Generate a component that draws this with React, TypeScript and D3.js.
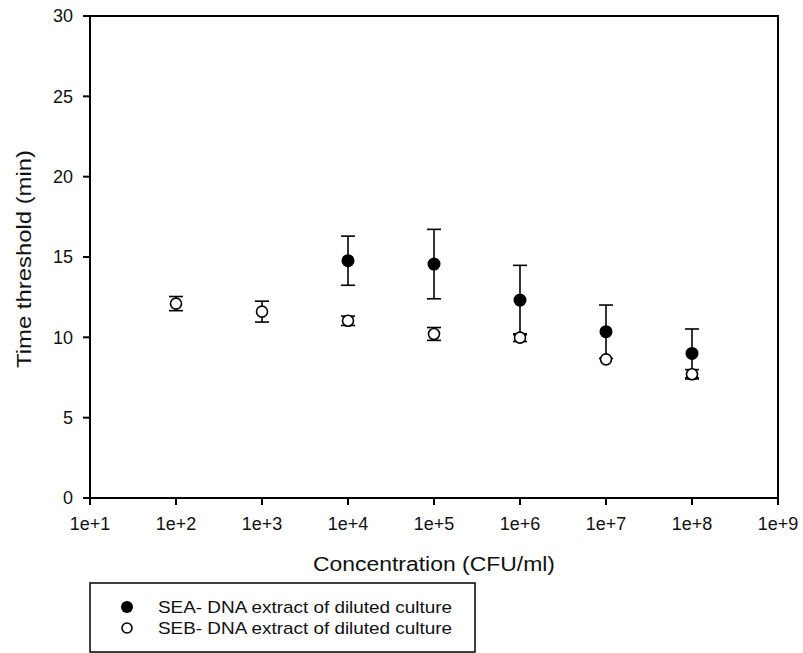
import * as d3 from "d3";

// concentrations (CFU/ml) and threshold times (min)
const seaConc = [1e4, 1e5, 1e6, 1e7, 1e8];
const seaMean = [14.77, 14.56, 12.32, 10.35, 9.0];
const seaErr = [1.53, 2.16, 2.16, 1.66, 1.52];

const sebConc = [1e2, 1e3, 1e4, 1e5, 1e6, 1e7, 1e8];
const sebMean = [12.1, 11.6, 11.03, 10.21, 9.98, 8.63, 7.7];
const sebErr = [0.44, 0.65, 0.29, 0.4, 0.24, 0.0, 0.29];

const xTicks = [1e1, 1e2, 1e3, 1e4, 1e5, 1e6, 1e7, 1e8, 1e9];
const yTicks = [0, 5, 10, 15, 20, 25, 30];

const legendLabels = [
  "SEA- DNA extract of diluted culture",
  "SEB- DNA extract of diluted culture"
];

const font = "Arial, 'Liberation Sans', sans-serif";

export default function App() {
  const W = 803;
  const H = 653;
  const left = 90;
  const right = 778;
  const top = 16;
  const bottom = 498;

  const x = d3.scaleLog().domain([1e1, 1e9]).range([left, right]);
  const y = d3.scaleLinear().domain([0, 30]).range([bottom, top]);

  const fmt = (v: number) => "1e+" + Math.round(Math.log10(v));
  const cap = 7;

  const errBars = (conc: number[], mean: number[], err: number[], key: string) =>
    conc.map((c, i) => {
      if (!err[i]) return null;
      const cx = x(c);
      const y1 = y(mean[i] + err[i]);
      const y2 = y(mean[i] - err[i]);
      return (
        <g key={key + i} stroke="#000" strokeWidth={1.6}>
          <line x1={cx} x2={cx} y1={y1} y2={y2} />
          <line x1={cx - cap} x2={cx + cap} y1={y1} y2={y1} />
          <line x1={cx - cap} x2={cx + cap} y1={y2} y2={y2} />
        </g>
      );
    });

  return (
    <svg
      width={W}
      height={H}
      style={{ position: "absolute", left: 0, top: 0, background: "#fff" }}
      fontFamily={font}
    >
      <rect x={0} y={0} width={W} height={H} fill="#fff" />
      {/* frame */}
      <rect x={left} y={top} width={right - left} height={bottom - top} fill="none" stroke="#000" strokeWidth={2} />

      {/* y ticks */}
      {yTicks.map((t) => (
        <g key={"y" + t}>
          <line x1={left - 7} x2={left} y1={y(t)} y2={y(t)} stroke="#000" strokeWidth={2} />
          <text x={left - 17} y={y(t)} dy="0.35em" textAnchor="end" fontSize={18} fill="#111">
            {t}
          </text>
        </g>
      ))}

      {/* x ticks */}
      {xTicks.map((t) => (
        <g key={"x" + t}>
          <line x1={x(t)} x2={x(t)} y1={bottom} y2={bottom + 7} stroke="#000" strokeWidth={2} />
          <text x={x(t)} y={bottom + 26} dy="0.35em" textAnchor="middle" fontSize={18} fill="#111">
            {fmt(t)}
          </text>
        </g>
      ))}

      <text
        x={434}
        y={564}
        dy="0.35em"
        textAnchor="middle"
        fontSize={20}
        fill="#111"
        textLength={242}
        lengthAdjust="spacingAndGlyphs"
      >
        Concentration (CFU/ml)
      </text>
      <text
        transform={`translate(24, 259) rotate(-90)`}
        dy="0.35em"
        textAnchor="middle"
        fontSize={20}
        fill="#111"
        textLength={218}
        lengthAdjust="spacingAndGlyphs"
      >
        Time threshold (min)
      </text>

      {/* SEA error bars + markers */}
      {errBars(seaConc, seaMean, seaErr, "ea")}
      {seaConc.map((c, i) => (
        <circle key={"sea" + i} cx={x(c)} cy={y(seaMean[i])} r={6.5} fill="#000" />
      ))}

      {/* SEB error bars + markers */}
      {errBars(sebConc, sebMean, sebErr, "eb")}
      {sebConc.map((c, i) => (
        <circle key={"seb" + i} cx={x(c)} cy={y(sebMean[i])} r={5.5} fill="#fff" stroke="#000" strokeWidth={1.6} />
      ))}

      {/* legend */}
      <rect x={90} y={583} width={385} height={69} fill="#fff" stroke="#000" strokeWidth={1.5} />
      {legendLabels.map((lab, i) => (
        <g key={"lg" + i}>
          {i === 0 ? (
            <circle cx={127} cy={607 + i * 21} r={6} fill="#000" />
          ) : (
            <circle cx={127} cy={607 + i * 21} r={5} fill="#fff" stroke="#000" strokeWidth={1.6} />
          )}
          <text
            x={158}
            y={607 + i * 21}
            dy="0.35em"
            fontSize={17}
            fill="#111"
            textLength={294}
            lengthAdjust="spacingAndGlyphs"
          >
            {lab}
          </text>
        </g>
      ))}
    </svg>
  );
}
